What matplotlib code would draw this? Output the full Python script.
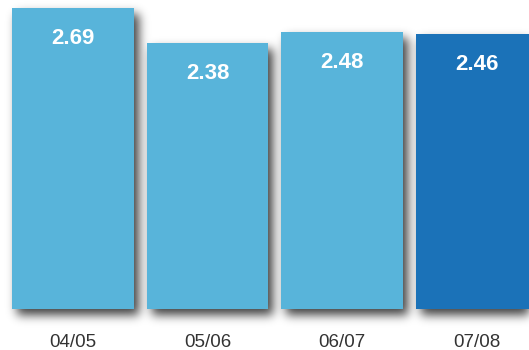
import numpy as np
import matplotlib
matplotlib.use('Agg')
import matplotlib.pyplot as plt

seasons = ['04/05', '05/06', '06/07', '07/08']
values = [2.69, 2.38, 2.48, 2.46]
colors = ['#58b4da', '#58b4da', '#58b4da', '#1b72b8']

plt.rcParams['font.family'] = ['Liberation Sans', 'DejaVu Sans']

W, H = 529, 350
fig = plt.figure(figsize=(W / 100, H / 100), dpi=100)
fig.patch.set_facecolor('white')
ax = fig.add_axes([0, 41 / H, 1, 309 / H])

x = np.arange(len(seasons))
bars = ax.bar(x, values, width=0.905, color=colors, zorder=3)

ax.set_xlim(-0.542, 3.388)
ax.set_ylim(0, 309 / 111.8)
ax.set_xticks(x)
ax.set_xticklabels(seasons, fontsize=13.5, color='#333333')
ax.tick_params(axis='x', length=0, pad=18)
ax.set_yticks([])
for s in ax.spines.values():
    s.set_visible(False)
ax.patch.set_alpha(0)

for b, v in zip(bars, values):
    ax.annotate(f'{v:.2f}', (b.get_x() + b.get_width() / 2, v),
                xytext=(0, -22), textcoords='offset points',
                ha='center', va='center', color='white',
                fontsize=16, fontweight='bold', zorder=4)

# blurred drop shadow behind the bars, built in pixel space
fig.canvas.draw()
mask = np.zeros((H, W))
dx, dy = 5, 6
for b in bars:
    (x0, y0), (x1, y1) = ax.transData.transform([(b.get_x(), 0), (b.get_x() + b.get_width(), b.get_height())])
    c0, c1 = int(round(x0)) + dx, int(round(x1)) + dx
    r0, r1 = H - int(round(y1)) + dy, H - int(round(y0)) + dy
    mask[max(r0, 0):min(r1, H), max(c0, 0):min(c1, W)] = 1.0

sigma = 5.0
k = np.arange(-16, 17)
kern = np.exp(-k ** 2 / (2 * sigma ** 2))
kern /= kern.sum()
blur = np.apply_along_axis(lambda r: np.convolve(r, kern, mode='same'), 1, mask)
blur = np.apply_along_axis(lambda c: np.convolve(c, kern, mode='same'), 0, blur)

rgba = np.zeros((H, W, 4))
rgba[..., 3] = blur * 0.75
fig.figimage(rgba, 0, 0, origin='upper', zorder=-1)

fig.savefig('out.png', dpi=100, facecolor='white')
